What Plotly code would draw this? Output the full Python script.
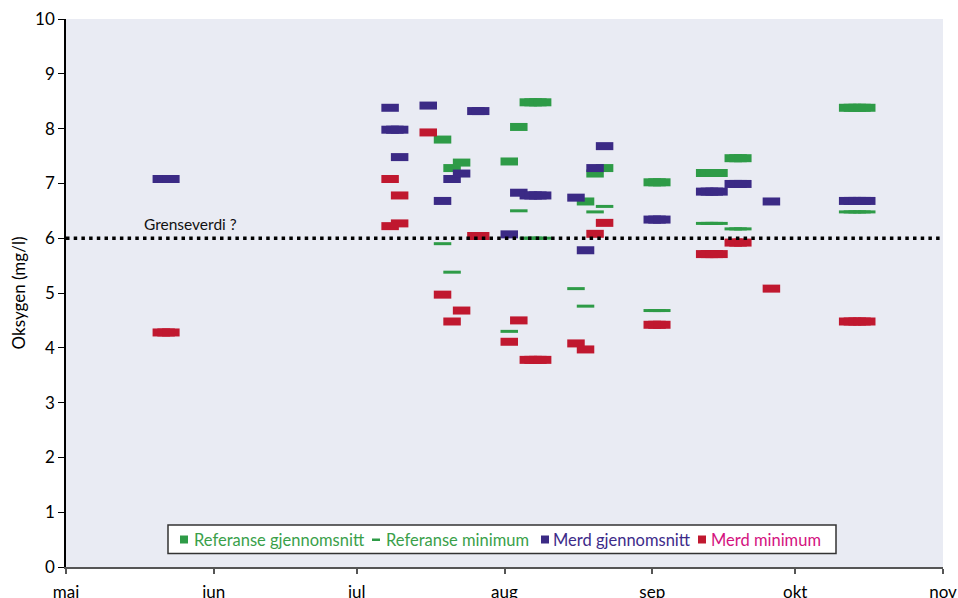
import plotly.graph_objects as go

# ---- data ----
ref_avg_dates = ["2009-07-19", "2009-07-21", "2009-07-23", "2009-08-02", "2009-08-04",
                 "2009-08-06", "2009-08-07", "2009-08-08", "2009-08-09",
                 "2009-08-18", "2009-08-20", "2009-08-22",
                 "2009-09-01", "2009-09-02", "2009-09-03",
                 "2009-09-12", "2009-09-13", "2009-09-14", "2009-09-15",
                 "2009-09-18", "2009-09-19", "2009-09-20",
                 "2009-10-12", "2009-10-13", "2009-10-14", "2009-10-15", "2009-10-16"]
ref_avg_vals = [7.80, 7.28, 7.38, 7.40, 8.03,
                8.48, 8.48, 8.48, 8.48,
                6.67, 7.18, 7.28,
                7.02, 7.02, 7.02,
                7.19, 7.19, 7.19, 7.19,
                7.46, 7.46, 7.46,
                8.38, 8.38, 8.38, 8.38, 8.38]

ref_min_dates = ["2009-07-19", "2009-07-21", "2009-08-02", "2009-08-04",
                 "2009-08-06", "2009-08-07", "2009-08-08", "2009-08-09",
                 "2009-08-16", "2009-08-18", "2009-08-20", "2009-08-22",
                 "2009-09-01", "2009-09-02", "2009-09-03",
                 "2009-09-12", "2009-09-13", "2009-09-14", "2009-09-15",
                 "2009-09-18", "2009-09-19", "2009-09-20",
                 "2009-10-12", "2009-10-13", "2009-10-14", "2009-10-15", "2009-10-16"]
ref_min_vals = [5.90, 5.38, 4.30, 6.50,
                6.00, 6.00, 6.00, 6.00,
                5.08, 4.76, 6.48, 6.58,
                4.68, 4.68, 4.68,
                6.27, 6.27, 6.27, 6.27,
                6.17, 6.17, 6.17,
                6.48, 6.48, 6.48, 6.48, 6.48]

merd_avg_dates = ["2009-05-21", "2009-05-22", "2009-05-23",
                  "2009-07-08", "2009-07-08", "2009-07-09", "2009-07-10", "2009-07-10",
                  "2009-07-16", "2009-07-19", "2009-07-21", "2009-07-23",
                  "2009-07-26", "2009-07-27",
                  "2009-08-02", "2009-08-04",
                  "2009-08-06", "2009-08-07", "2009-08-08", "2009-08-09",
                  "2009-08-16", "2009-08-18", "2009-08-20", "2009-08-22",
                  "2009-09-01", "2009-09-02", "2009-09-03",
                  "2009-09-12", "2009-09-13", "2009-09-14", "2009-09-15",
                  "2009-09-18", "2009-09-19", "2009-09-20",
                  "2009-09-26",
                  "2009-10-12", "2009-10-13", "2009-10-14", "2009-10-15", "2009-10-16"]
merd_avg_vals = [7.08, 7.08, 7.08,
                 8.38, 7.98, 7.98, 7.98, 7.48,
                 8.42, 6.68, 7.08, 7.18,
                 8.32, 8.32,
                 6.07, 6.83,
                 6.78, 6.78, 6.78, 6.78,
                 6.74, 5.78, 7.28, 7.68,
                 6.34, 6.34, 6.34,
                 6.85, 6.85, 6.85, 6.85,
                 6.99, 6.99, 6.99,
                 6.67,
                 6.68, 6.68, 6.68, 6.68, 6.68]

merd_min_dates = ["2009-05-21", "2009-05-22", "2009-05-23",
                  "2009-07-08", "2009-07-08", "2009-07-10", "2009-07-10",
                  "2009-07-16", "2009-07-19", "2009-07-21", "2009-07-23",
                  "2009-07-26", "2009-07-27",
                  "2009-08-02", "2009-08-04",
                  "2009-08-06", "2009-08-07", "2009-08-08", "2009-08-09",
                  "2009-08-16", "2009-08-18", "2009-08-20", "2009-08-22",
                  "2009-09-01", "2009-09-02", "2009-09-03",
                  "2009-09-12", "2009-09-13", "2009-09-14", "2009-09-15",
                  "2009-09-18", "2009-09-19", "2009-09-20",
                  "2009-09-26",
                  "2009-10-12", "2009-10-13", "2009-10-14", "2009-10-15", "2009-10-16"]
merd_min_vals = [4.28, 4.28, 4.28,
                 7.08, 6.22, 6.78, 6.27,
                 7.93, 4.97, 4.48, 4.68,
                 6.04, 6.04,
                 4.11, 4.50,
                 3.78, 3.78, 3.78, 3.78,
                 4.08, 3.97, 6.08, 6.28,
                 4.42, 4.42, 4.42,
                 5.71, 5.71, 5.71, 5.71,
                 5.92, 5.92, 5.92,
                 5.08,
                 4.48, 4.48, 4.48, 4.48, 4.48]

threshold = 6.0
month_ticks = ["2009-05-01", "2009-06-01", "2009-07-01", "2009-08-01",
               "2009-09-01", "2009-10-01", "2009-11-01"]
month_labels = ["mai", "jun", "jul", "aug", "sep", "okt", "nov"]

series_names = ["Referanse gjennomsnitt", "Referanse minimum",
                "Merd gjennomsnitt", "Merd minimum"]

# ---- styles ----
GREEN = "#2E9B47"
PURPLE = "#3B2A85"
RED = "#C0182F"
TEXT_COLORS = ["#3A9F4A", "#3A9F4A", "#3D2B8A", "#D4137F"]
FONT = "Lato, 'Open Sans', sans-serif"

W, H = 958, 598
ML, MR, MT, MB = 66, 15, 19, 31
PW, PH = W - ML - MR, H - MT - MB

def px_x(p):  # pixel column -> paper x
    return (p - ML) / PW

def px_y(p):  # pixel row -> paper y
    return (H - MB - p) / PH

fig = go.Figure()

def add_marks(name, dates, vals, color, thick):
    fig.add_trace(go.Scatter(
        x=dates, y=vals, mode="markers", name=name, showlegend=False,
        hovertemplate=name + ": %{y}<extra></extra>",
        marker=dict(symbol="line-ew", size=12.5,
                    line=dict(color=color, width=thick)),
    ))

add_marks(series_names[0], ref_avg_dates, ref_avg_vals, GREEN, 8)
add_marks(series_names[1], ref_min_dates, ref_min_vals, GREEN, 3)
add_marks(series_names[2], merd_avg_dates, merd_avg_vals, PURPLE, 8)
add_marks(series_names[3], merd_min_dates, merd_min_vals, RED, 8)

# threshold line + label
fig.add_shape(type="line", xref="paper", x0=0, x1=1, yref="y", y0=threshold, y1=threshold,
              line=dict(color="black", width=3.5, dash="3.5px,4.2px"))
fig.add_annotation(xref="paper", x=px_x(142), yref="y", y=threshold, text="Grenseverdi ?",
                   showarrow=False, xanchor="left", yanchor="bottom", yshift=3,
                   font=dict(family=FONT, size=15.5, color="#111"))

# ---- legend (boxed, one row, inside the plot) ----
fig.add_shape(type="rect", xref="paper", yref="paper",
              x0=px_x(168), x1=px_x(836), y0=px_y(553.5), y1=px_y(525),
              fillcolor="white", line=dict(color="#333", width=1.5), layer="above")
leg_y = px_y(539.5)
sym_left = [180, 372, 541, 698]
text_left = [192, 384, 551, 709]
sym_kind = ["square", "dash", "square", "square"]
sym_color = [GREEN, GREEN, PURPLE, RED]
for name, sl, tl, kind, sc, tc in zip(series_names, sym_left, text_left, sym_kind,
                                      sym_color, TEXT_COLORS):
    if kind == "square":
        fig.add_shape(type="rect", xref="paper", yref="paper",
                      x0=px_x(sl), x1=px_x(sl + 8), y0=px_y(543.5), y1=px_y(535.5),
                      fillcolor=sc, line=dict(width=0), layer="above")
    else:
        fig.add_shape(type="rect", xref="paper", yref="paper",
                      x0=px_x(sl), x1=px_x(sl + 8), y0=px_y(541), y1=px_y(538.5),
                      fillcolor=sc, line=dict(width=0), layer="above")
    fig.add_annotation(xref="paper", yref="paper", x=px_x(tl), y=leg_y, text=name,
                       showarrow=False, xanchor="left", yanchor="middle",
                       font=dict(family=FONT, size=16.5, color=tc))

fig.update_layout(
    width=W, height=H,
    margin=dict(l=ML, r=MR, t=MT, b=MB, autoexpand=False),
    paper_bgcolor="white", plot_bgcolor="#E9EBF3",
    font=dict(family=FONT, size=16, color="black"),
    showlegend=False,
    xaxis=dict(type="date", range=["2009-05-01", "2009-11-01"], automargin=False,
               tickmode="array", tickvals=month_ticks, ticktext=month_labels,
               showgrid=False, zeroline=False, showline=True, linecolor="#555", linewidth=1.5,
               ticks="outside", ticklen=5, tickcolor="#555", tickwidth=1.5,
               ticklabelstandoff=4,
               tickfont=dict(size=17), fixedrange=True),
    yaxis=dict(range=[0, 10], tickmode="linear", dtick=1, tick0=0, automargin=False,
               showgrid=False, zeroline=False, showline=True, linecolor="black", linewidth=1.5,
               ticks="outside", ticklen=6, tickcolor="black", tickwidth=1,
               tickfont=dict(size=17),
               title=dict(text="Oksygen (mg/l)", font=dict(size=17), standoff=5),
               fixedrange=True),
)

post = """
document.body.style.margin = '0';
document.documentElement.style.margin = '0';
var st = document.createElement('style');
st.textContent = '.js-plotly-plot .scatterlayer path.point{stroke-linecap:butt !important;}';
document.head.appendChild(st);
"""
fig.write_html("out.html", post_script=post, config={"displayModeBar": False})
